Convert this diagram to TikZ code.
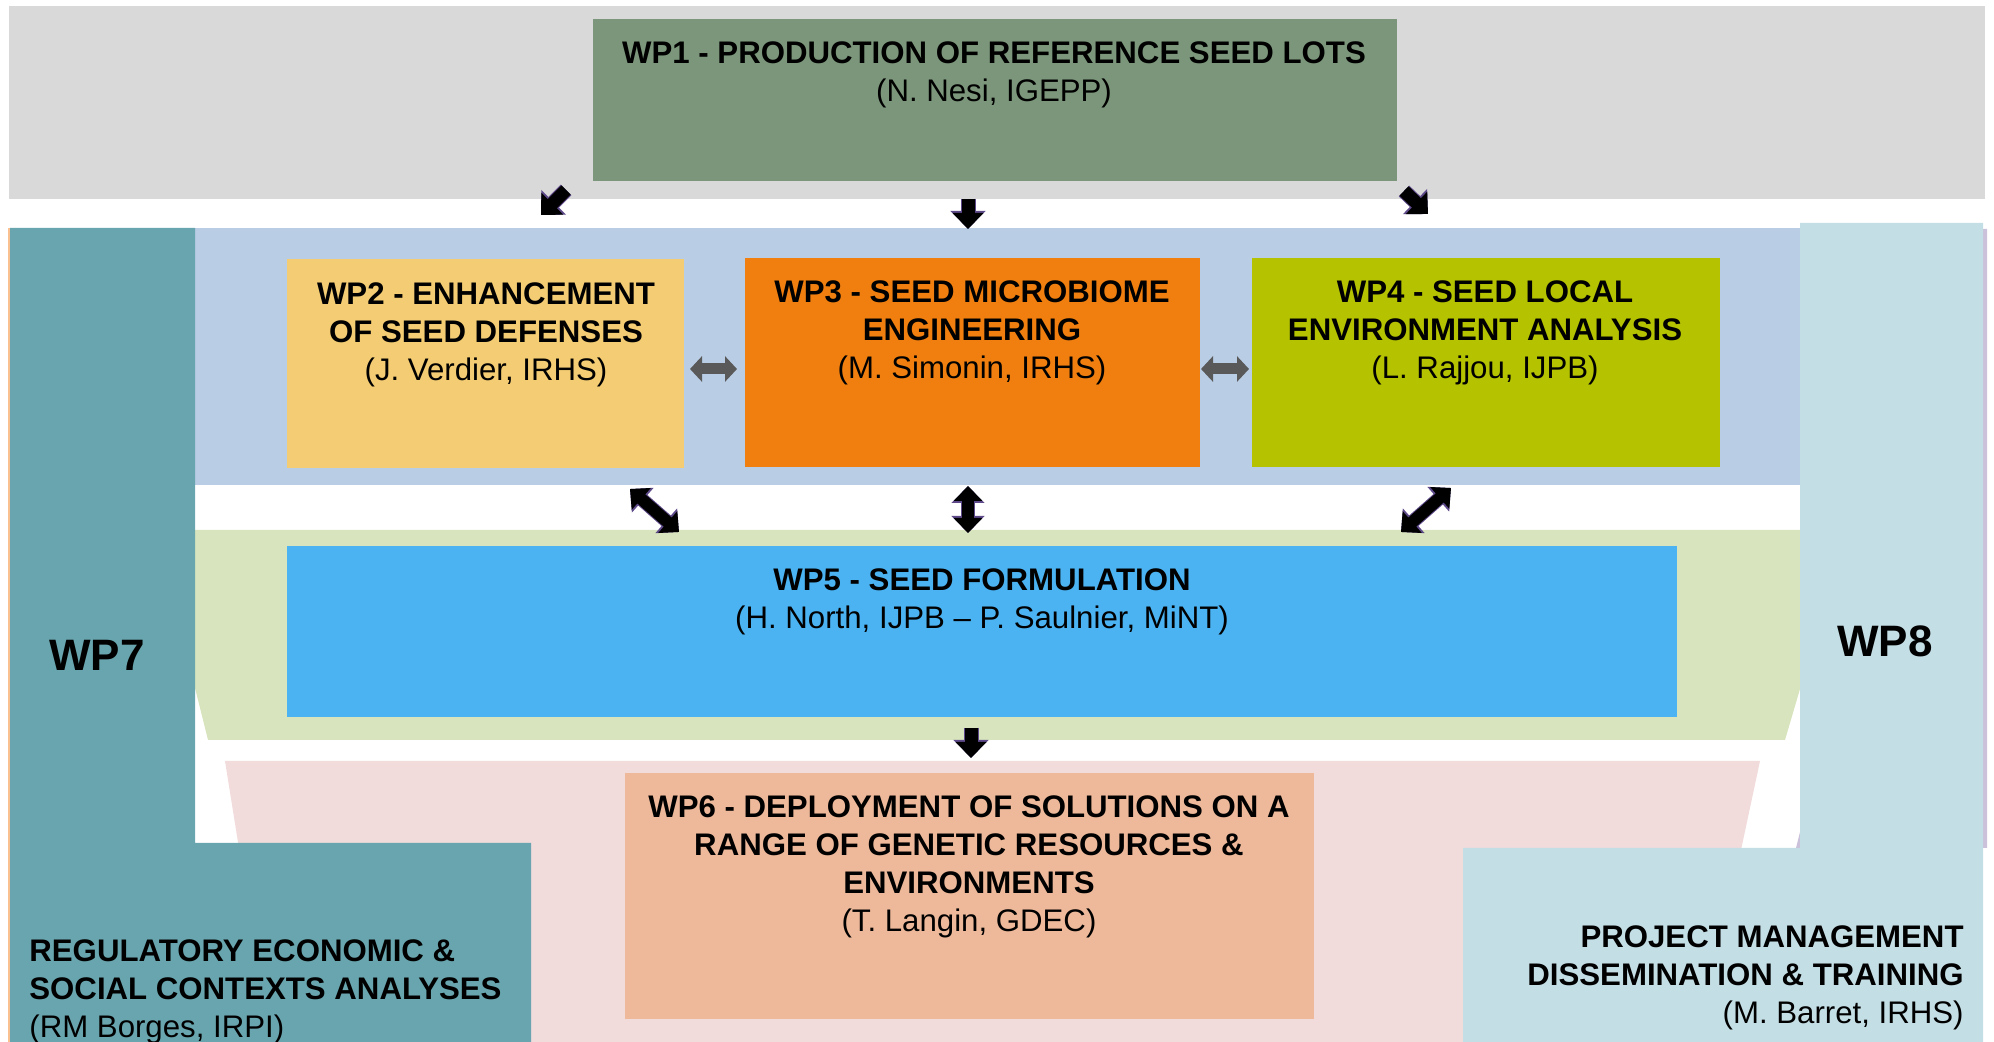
\documentclass[tikz,border=0pt]{standalone}
\usepackage{fontspec}
\setmainfont{Liberation Sans}
\usetikzlibrary{arrows.meta,fit}
\definecolor{bandgray}{HTML}{D9D9D9}
\definecolor{wponec}{HTML}{7B967A}
\definecolor{bandblue}{HTML}{B9CDE5}
\definecolor{wptwoc}{HTML}{F3CC73}
\definecolor{wpthreec}{HTML}{F07F10}
\definecolor{wpfourc}{HTML}{B4C200}
\definecolor{bandgreen}{HTML}{D8E4BD}
\definecolor{wpfivec}{HTML}{4BB3F2}
\definecolor{bandpink}{HTML}{F1DBDB}
\definecolor{wpsixc}{HTML}{EEB99A}
\definecolor{tealc}{HTML}{68A5AE}
\definecolor{lightbluec}{HTML}{C4DEE5}
\definecolor{lavc}{HTML}{CCC1DA}
\definecolor{peachc}{HTML}{FAC090}
\definecolor{arrowpurple}{HTML}{5E4A8A}
\definecolor{arrowgray}{HTML}{595959}
\tikzset{
  boxc/.style={inner sep=0pt, outer sep=0pt, draw=none},
  ttl/.style={font=\fontsize{15.6}{19.1}\selectfont, align=center, inner sep=0pt, anchor=north, text=black},
  bigl/.style={font=\fontsize{22}{26}\selectfont\bfseries, inner sep=0pt, text=black},
  blkarrow/.style={line width=6.5pt, black, -{Triangle[width=15pt,length=8pt]},
    preaction={draw=arrowpurple, line width=7.5pt, -{Triangle[width=17pt,length=9pt]}}},
  dblarrow/.style={line width=6pt, black, {Triangle[width=14pt,length=7.5pt]}-{Triangle[width=14pt,length=7.5pt]},
    preaction={draw=arrowpurple, line width=7pt, {Triangle[width=16pt,length=8.5pt]}-{Triangle[width=16pt,length=8.5pt]}}},
  grayarrow/.style={line width=5.5pt, arrowgray, {Triangle[width=12.5pt,length=6pt]}-{Triangle[width=12.5pt,length=6pt]}}
}
\begin{document}
\begin{tikzpicture}[x=0.5pt,y=-0.5pt]
\useasboundingbox (0,0) rectangle (1994,1042);
% background bands
\fill[bandgray] (9,6) rectangle (1985,199);
\fill[bandblue] (195,228) rectangle (1800,485);
\fill[bandgreen] (195,530) -- (1805,530) -- (1805,672) -- (1785,740) -- (208,740) -- (195,688) -- cycle;
\fill[bandpink] (225,761) -- (1760,761) -- (1700,1042) -- (270,1042) -- cycle;
\fill[peachc] (8,228) rectangle (11,1042);
\fill[lavc] (1805,229) -- (1987,229) -- (1987,848) -- (1796,848) -- (1805,812) -- cycle;
% WP7 and WP8 frames
\fill[tealc] (10,228) -- (195,228) -- (195,843) -- (531,843) -- (531,1042) -- (10,1042) -- cycle;
\fill[lightbluec] (1800,223) -- (1983,223) -- (1983,1042) -- (1463,1042) -- (1463,848) -- (1800,848) -- cycle;
% boxes
\node[boxc, fill=wponec, fit={(593,19) (1397,181)}] (wp1) {};
\node[boxc, fill=wptwoc, fit={(287,259) (684,468)}] (wp2) {};
\node[boxc, fill=wpthreec, fit={(745,258) (1200,467)}] (wp3) {};
\node[boxc, fill=wpfourc, fit={(1252,258) (1720,467)}] (wp4) {};
\node[boxc, fill=wpfivec, fit={(287,546) (1677,717)}] (wp5) {};
\node[boxc, fill=wpsixc, fit={(625,773) (1314,1019)}] (wp6) {};
% texts
\node[ttl] (wp1t) at (994,41) {\textbf{WP1 - PRODUCTION OF REFERENCE SEED LOTS}\\(N. Nesi, IGEPP)};
\node[ttl] (wp2t) at (486,282) {\textbf{WP2 - ENHANCEMENT}\\\textbf{OF SEED DEFENSES}\\(J. Verdier, IRHS)};
\node[ttl] (wp3t) at (972,280) {\textbf{WP3 - SEED MICROBIOME}\\\textbf{ENGINEERING}\\(M. Simonin, IRHS)};
\node[ttl] (wp4t) at (1485,280) {\textbf{WP4 - SEED LOCAL}\\\textbf{ENVIRONMENT ANALYSIS}\\(L. Rajjou, IJPB)};
\node[ttl] (wp5t) at (982,568) {\textbf{WP5 - SEED FORMULATION}\\(H. North, IJPB – P. Saulnier, MiNT)};
\node[ttl] (wp6t) at (969,795) {\textbf{WP6 - DEPLOYMENT OF SOLUTIONS ON A}\\\textbf{RANGE OF GENETIC RESOURCES \&}\\\textbf{ENVIRONMENTS}\\(T. Langin, GDEC)};
\node[ttl, anchor=north west, align=left] (wp7t) at (29,939) {\textbf{REGULATORY ECONOMIC \&}\\\textbf{SOCIAL CONTEXTS ANALYSES}\\(RM Borges, IRPI)};
\node[ttl, anchor=north east, align=right] (wp8t) at (1964,925) {\textbf{PROJECT MANAGEMENT}\\\textbf{DISSEMINATION \& TRAINING}\\(M. Barret, IRHS)};
\node[bigl] (wp7l) at (97,655) {WP7};
\node[bigl] (wp8l) at (1885,641) {WP8};
% arrow end points
\coordinate (a1s) at (566,190); \coordinate (a1e) at (541,215);
\coordinate (a2s) at (968,199); \coordinate (a2e) at (968,229);
\coordinate (a3s) at (1404,191); \coordinate (a3e) at (1428,214);
\coordinate (g1s) at (690,369); \coordinate (g1e) at (737,369);
\coordinate (g2s) at (1201,369); \coordinate (g2e) at (1249,369);
\coordinate (d1s) at (630,489); \coordinate (d1e) at (679,532);
\coordinate (d2s) at (968,486); \coordinate (d2e) at (968,533);
\coordinate (d3s) at (1451,488); \coordinate (d3e) at (1401,532);
\coordinate (b1s) at (971,728); \coordinate (b1e) at (971,758);
% arrows
\draw[blkarrow] (a1s) -- (a1e);
\draw[blkarrow] (a2s) -- (a2e);
\draw[blkarrow] (a3s) -- (a3e);
\draw[grayarrow] (g1s) -- (g1e);
\draw[grayarrow] (g2s) -- (g2e);
\draw[dblarrow] (d1s) -- (d1e);
\draw[dblarrow] (d2s) -- (d2e);
\draw[dblarrow] (d3s) -- (d3e);
\draw[blkarrow] (b1s) -- (b1e);
\end{tikzpicture}
\end{document}
